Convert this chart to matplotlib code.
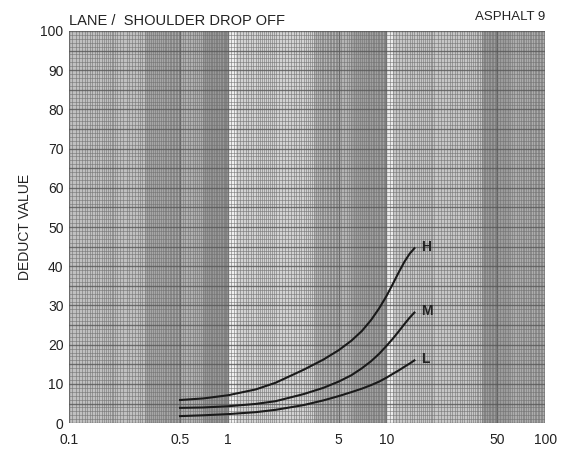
import numpy as np
import matplotlib
matplotlib.use("Agg")
import matplotlib.pyplot as plt

plt.rcParams['font.family'] = ['Liberation Sans', 'DejaVu Sans']

# ---- data ----
x_vals = [0.5, 0.7, 1, 1.5, 2, 3, 4, 5, 6, 7, 8, 9, 10, 11, 12, 13, 14, 15]
h_vals = [5.9, 6.3, 7.1, 8.6, 10.3, 13.6, 16.2, 18.6, 21.0, 23.5, 26.3, 29.3, 32.4, 35.6, 38.6, 41.2, 43.2, 44.6]
m_vals = [3.9, 4.0, 4.3, 4.9, 5.6, 7.4, 9.0, 10.6, 12.2, 14.0, 15.8, 17.7, 19.7, 21.6, 23.5, 25.3, 26.9, 28.2]
l_vals = [1.8, 2.0, 2.3, 2.8, 3.4, 4.6, 5.8, 6.9, 7.9, 8.8, 9.7, 10.6, 11.6, 12.6, 13.5, 14.4, 15.2, 16.0]
series_names = ["H", "M", "L"]
x_ticks = [0.1, 0.5, 1, 5, 10, 50, 100]
x_ticklabels = ["0.1", "0.5", "1", "5", "10", "50", "100"]
y_ticks = [0, 10, 20, 30, 40, 50, 60, 70, 80, 90, 100]
title_left = "LANE /  SHOULDER DROP OFF"
title_right = "ASPHALT 9"
y_label = "DEDUCT VALUE"

fig = plt.figure(figsize=(5.62, 4.55), dpi=100)
ax = fig.add_axes([0.123, 0.070, 0.847, 0.862])
ax.set_xscale('log')
ax.set_xlim(0.1, 100)
ax.set_ylim(0, 100)
ax.set_facecolor('#cfcfcf')

# shaded bands of the graph paper
bands = [
    (0.1, 0.3, '#c0c0c0'), (0.3, 0.5, '#a6a6a6'), (0.5, 0.7, '#b0b0b0'),
    (0.7, 1.0, '#989898'), (1.0, 1.12, '#f0f0f0'), (1.12, 3.5, '#d2d2d2'),
    (3.5, 6.0, '#b4b4b4'), (6.0, 10.0, '#a0a0a0'), (10.0, 11.0, '#ececec'),
    (11.0, 40.0, '#c6c6c6'), (40.0, 60.0, '#9c9c9c'), (60.0, 100.0, '#acacac'),
]
for a, b, c in bands:
    ax.axvspan(a, b, color=c, lw=0, zorder=0)

# vertical grid lines (log paper)
vlines = []
for dec in [0.1, 1, 10]:
    vlines += list(np.arange(1, 2, 0.05) * dec)
    vlines += list(np.arange(2, 5, 0.1) * dec)
    vlines += list(np.arange(5, 10, 0.2) * dec)
for v in vlines:
    ax.axvline(v, color='#707070', lw=0.7, alpha=0.55, zorder=1)
for v in [0.1, 0.5, 1, 5, 10, 50, 100]:
    ax.axvline(v, color='#505050', lw=1.0, alpha=0.6, zorder=1)

# horizontal grid lines
for yv in np.arange(0, 101, 1):
    ax.axhline(yv, color='#707070', lw=0.7, alpha=0.55, zorder=1)
for yv in np.arange(0, 101, 5):
    ax.axhline(yv, color='#505050', lw=1.0, alpha=0.6, zorder=1)

for vals, name in zip([h_vals, m_vals, l_vals], series_names):
    ax.plot(x_vals, vals, color='#1a1a1a', lw=1.5, zorder=3,
            solid_joinstyle='round')
    ax.text(x_vals[-1] * 1.1, vals[-1] + 0.3, name, fontsize=10, fontweight='bold',
            ha='left', va='center', color='#222222', zorder=4)

ax.set_xticks(x_ticks)
ax.set_xticklabels(x_ticklabels)
ax.xaxis.set_minor_locator(matplotlib.ticker.NullLocator())
ax.set_yticks(y_ticks)
ax.tick_params(axis='both', length=0, labelsize=10, colors='#222222')
ax.tick_params(axis='x', pad=7)
ax.tick_params(axis='y', pad=4)
for s in ax.spines.values():
    s.set_visible(False)

ax.set_ylabel(y_label, fontsize=10, color='#222222', labelpad=6)
ax.text(0.0, 1.008, title_left, transform=ax.transAxes, fontsize=10.5,
        ha='left', va='bottom', color='#222222')
ax.text(1.0, 1.02, title_right, transform=ax.transAxes, fontsize=9.5,
        ha='right', va='bottom', color='#222222')

fig.savefig('out.png', dpi=100)
